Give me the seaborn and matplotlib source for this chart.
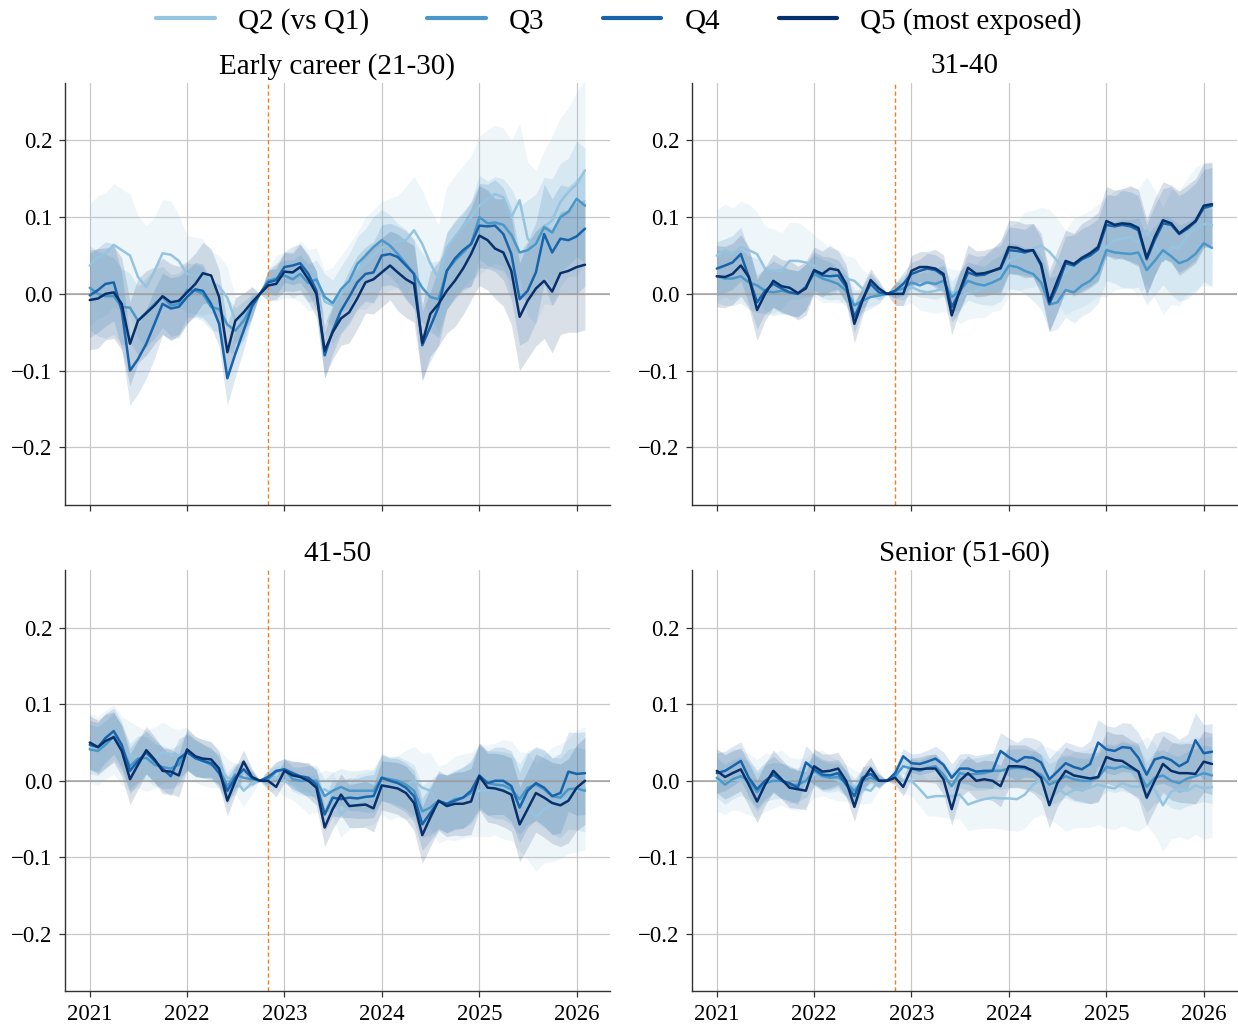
import numpy as np
import pandas as pd
import matplotlib
matplotlib.use("Agg")
import matplotlib.pyplot as plt
import matplotlib.dates as mdates
from matplotlib.lines import Line2D
import seaborn as sns

# Monthly event-study coefficients, reference month 2022-10 (normalised to 0)
months = pd.date_range("2021-01-01", "2026-02-01", freq="MS")
quintiles = ["Q2 (vs Q1)", "Q3", "Q4", "Q5 (most exposed)"]
panel_titles = ["Early career (21-30)", "31-40", "41-50", "Senior (51-60)"]
release_date = pd.Timestamp("2022-11-01")
y_ticks = [-0.2, -0.1, 0.0, 0.1, 0.2]

# ---- Early career (21-30) ----
early_q2 = [0.037, 0.048, 0.052, 0.064, 0.057, 0.050, 0.022, 0.009, 0.030, 0.053, 0.051, 0.043,
            0.026, 0.024, 0.022, 0.015, 0.010, -0.005, -0.035, -0.030, -0.010, 0.000,
            0.012, 0.020, 0.025, 0.025, 0.030, 0.018, 0.020, -0.010, -0.015, 0.000, 0.015, 0.030,
            0.040, 0.050, 0.060, 0.065, 0.068, 0.070, 0.083, 0.065, 0.040, 0.020, 0.060, 0.074,
            0.087, 0.100, 0.115, 0.124, 0.130, 0.126, 0.100, 0.122, 0.072, 0.061, 0.087, 0.096, 0.120, 0.133, 0.143, 0.161]
early_q3 = [0.008, 0.000, -0.003, -0.003, -0.017, -0.018, -0.035, -0.024, -0.013, -0.004, -0.015, -0.013,
            0.005, 0.004, 0.000, -0.017, -0.020, -0.040, -0.048, -0.035, -0.015, 0.000,
            0.017, 0.020, 0.024, 0.019, 0.026, 0.014, 0.019, -0.004, -0.012, 0.006, 0.017, 0.039,
            0.050, 0.061, 0.070, 0.063, 0.052, 0.039, 0.026, 0.008, -0.004, -0.007, 0.030, 0.043,
            0.054, 0.065, 0.100, 0.092, 0.093, 0.090, 0.077, 0.054, 0.057, 0.065, 0.087, 0.080, 0.100, 0.107, 0.124, 0.115]
early_q4 = [-0.002, 0.005, 0.013, 0.015, -0.022, -0.100, -0.085, -0.065, -0.039, -0.013, -0.019, -0.017,
            -0.004, 0.006, 0.004, -0.013, -0.039, -0.110, -0.078, -0.048, -0.017, 0.000,
            0.015, 0.018, 0.035, 0.037, 0.040, 0.026, 0.004, -0.080, -0.048, -0.022, -0.004, 0.015,
            0.026, 0.028, 0.050, 0.052, 0.048, 0.037, 0.026, -0.067, -0.043, -0.017, 0.030, 0.046,
            0.057, 0.065, 0.089, 0.088, 0.089, 0.078, 0.052, -0.007, 0.004, 0.028, 0.078, 0.054, 0.072, 0.070, 0.075, 0.085]
early_q5 = [-0.008, -0.006, 0.000, 0.002, -0.013, -0.065, -0.035, -0.025, -0.015, -0.003, -0.011, -0.009,
            0.002, 0.013, 0.027, 0.024, -0.004, -0.076, -0.035, -0.024, -0.011, 0.000,
            0.011, 0.013, 0.029, 0.028, 0.035, 0.019, 0.000, -0.074, -0.050, -0.032, -0.024, -0.006,
            0.015, 0.019, 0.028, 0.037, 0.028, 0.019, 0.013, -0.064, -0.026, -0.013, 0.004, 0.017,
            0.033, 0.052, 0.076, 0.070, 0.059, 0.054, 0.030, -0.030, -0.009, 0.007, 0.017, 0.003, 0.027, 0.030, 0.035, 0.038]
# 95% CI half-widths
early_q2_ci = [0.08, 0.08, 0.08, 0.08, 0.08, 0.08, 0.08, 0.08, 0.07, 0.07, 0.07, 0.06,
               0.05, 0.05, 0.05, 0.04, 0.04, 0.04, 0.03, 0.03, 0.02, 0.00,
               0.02, 0.03, 0.03, 0.03, 0.04, 0.04, 0.04, 0.04, 0.05, 0.05, 0.05, 0.05,
               0.06, 0.06, 0.06, 0.06, 0.06, 0.07, 0.07, 0.07, 0.07, 0.07, 0.08, 0.08,
               0.08, 0.08, 0.09, 0.09, 0.09, 0.09, 0.10, 0.10, 0.10, 0.10, 0.10, 0.11, 0.11, 0.11, 0.12, 0.12]
early_mid_ci = [0.055, 0.055, 0.055, 0.050, 0.050, 0.045, 0.045, 0.045, 0.045, 0.040, 0.040, 0.040,
                0.035, 0.035, 0.035, 0.030, 0.030, 0.035, 0.030, 0.025, 0.015, 0.000,
                0.015, 0.020, 0.020, 0.025, 0.025, 0.025, 0.025, 0.030, 0.030, 0.030, 0.035, 0.035,
                0.035, 0.040, 0.040, 0.040, 0.040, 0.045, 0.045, 0.045, 0.045, 0.050, 0.050, 0.050,
                0.050, 0.055, 0.055, 0.055, 0.060, 0.060, 0.060, 0.060, 0.065, 0.065, 0.065, 0.070, 0.070, 0.070, 0.075, 0.075]
early_q5_ci = [0.065, 0.065, 0.060, 0.060, 0.060, 0.055, 0.055, 0.055, 0.050, 0.050, 0.050, 0.045,
               0.040, 0.040, 0.040, 0.035, 0.035, 0.035, 0.030, 0.025, 0.020, 0.000,
               0.020, 0.020, 0.025, 0.025, 0.030, 0.030, 0.030, 0.035, 0.035, 0.035, 0.040, 0.040,
               0.040, 0.045, 0.045, 0.045, 0.050, 0.050, 0.050, 0.050, 0.055, 0.055, 0.055, 0.060,
               0.060, 0.060, 0.065, 0.065, 0.065, 0.070, 0.070, 0.070, 0.075, 0.075, 0.075, 0.080, 0.080, 0.080, 0.085, 0.085]

# ---- 31-40 ----
thirties_q2 = [0.050, 0.057, 0.052, 0.061, 0.057, 0.052, 0.033, 0.030, 0.030, 0.043, 0.043, 0.041,
               0.037, 0.028, 0.024, 0.023, 0.020, 0.017, 0.007, 0.004, 0.002, 0.000,
               0.000, 0.004, 0.009, 0.004, 0.002, 0.004, 0.007, 0.002, -0.004, 0.002, 0.004, 0.009,
               0.017, 0.024, 0.043, 0.048, 0.057, 0.059, 0.063, 0.055, 0.043, 0.028, 0.039, 0.043,
               0.049, 0.057, 0.061, 0.070, 0.072, 0.074, 0.067, 0.083, 0.065, 0.043, 0.061, 0.060, 0.076, 0.085, 0.091, 0.090]
thirties_q3 = [0.023, 0.020, 0.020, 0.023, 0.015, 0.011, 0.004, 0.002, 0.004, 0.002, 0.000, 0.009,
               0.026, 0.020, 0.017, 0.013, 0.004, -0.015, -0.009, -0.004, -0.002, 0.000,
               0.004, 0.007, 0.015, 0.011, 0.015, 0.013, 0.017, -0.004, 0.004, 0.017, 0.013, 0.011,
               0.015, 0.020, 0.037, 0.035, 0.030, 0.026, 0.015, -0.014, -0.011, 0.005, 0.002, 0.011,
               0.017, 0.028, 0.057, 0.054, 0.053, 0.052, 0.054, 0.031, 0.043, 0.057, 0.049, 0.040, 0.044, 0.052, 0.066, 0.060]
thirties_q4 = [0.033, 0.037, 0.041, 0.052, 0.022, -0.011, 0.004, 0.013, 0.007, 0.002, 0.000, 0.009,
               0.030, 0.024, 0.023, 0.024, 0.009, -0.030, -0.007, 0.013, 0.002, 0.000,
               0.004, 0.013, 0.026, 0.030, 0.033, 0.031, 0.024, -0.017, 0.002, 0.028, 0.024, 0.025,
               0.030, 0.033, 0.057, 0.056, 0.054, 0.057, 0.037, -0.013, 0.010, 0.040, 0.037, 0.045,
               0.050, 0.058, 0.090, 0.088, 0.090, 0.088, 0.083, 0.045, 0.070, 0.092, 0.090, 0.078, 0.085, 0.094, 0.112, 0.115]
thirties_q5 = [0.023, 0.022, 0.026, 0.037, 0.022, -0.021, 0.000, 0.017, 0.010, 0.008, 0.001, 0.007,
               0.031, 0.026, 0.033, 0.031, 0.013, -0.039, -0.009, 0.018, 0.007, 0.000,
               0.000, 0.000, 0.030, 0.035, 0.035, 0.033, 0.026, -0.028, 0.004, 0.034, 0.026, 0.027,
               0.030, 0.034, 0.061, 0.060, 0.056, 0.057, 0.039, -0.010, 0.017, 0.043, 0.039, 0.047,
               0.053, 0.061, 0.095, 0.090, 0.092, 0.091, 0.086, 0.047, 0.074, 0.096, 0.092, 0.079, 0.087, 0.095, 0.115, 0.117]
thirties_q2_ci = [0.060, 0.060, 0.060, 0.060, 0.060, 0.055, 0.055, 0.055, 0.050, 0.050, 0.050, 0.045,
                  0.040, 0.040, 0.035, 0.035, 0.030, 0.030, 0.025, 0.020, 0.015, 0.000,
                  0.015, 0.020, 0.020, 0.025, 0.025, 0.030, 0.030, 0.030, 0.035, 0.035, 0.035, 0.040,
                  0.040, 0.045, 0.045, 0.045, 0.050, 0.050, 0.050, 0.055, 0.055, 0.055, 0.060, 0.060,
                  0.060, 0.060, 0.065, 0.065, 0.065, 0.065, 0.070, 0.070, 0.070, 0.070, 0.075, 0.075, 0.075, 0.080, 0.080, 0.080]
thirties_mid_ci = [0.035, 0.035, 0.035, 0.035, 0.035, 0.035, 0.030, 0.030, 0.030, 0.030, 0.030, 0.030,
                   0.025, 0.025, 0.025, 0.020, 0.020, 0.020, 0.015, 0.015, 0.010, 0.000,
                   0.010, 0.015, 0.015, 0.015, 0.020, 0.020, 0.020, 0.020, 0.025, 0.025, 0.025, 0.025,
                   0.030, 0.030, 0.030, 0.030, 0.030, 0.035, 0.035, 0.035, 0.035, 0.035, 0.040, 0.040,
                   0.040, 0.040, 0.040, 0.040, 0.045, 0.045, 0.045, 0.045, 0.045, 0.045, 0.050, 0.050, 0.050, 0.050, 0.050, 0.050]
thirties_q5_ci = [0.040, 0.040, 0.040, 0.040, 0.040, 0.040, 0.035, 0.035, 0.035, 0.035, 0.035, 0.035,
                  0.030, 0.030, 0.030, 0.025, 0.025, 0.025, 0.020, 0.015, 0.010, 0.000,
                  0.015, 0.015, 0.020, 0.020, 0.020, 0.025, 0.025, 0.025, 0.025, 0.030, 0.030, 0.030,
                  0.030, 0.035, 0.035, 0.035, 0.035, 0.035, 0.040, 0.040, 0.040, 0.040, 0.040, 0.045,
                  0.045, 0.045, 0.045, 0.045, 0.045, 0.050, 0.050, 0.050, 0.050, 0.050, 0.050, 0.055, 0.055, 0.055, 0.055, 0.055]

# ---- 41-50 ----
forties_q2 = [0.043, 0.039, 0.047, 0.054, 0.039, 0.032, 0.031, 0.026, 0.030, 0.037, 0.035, 0.032,
              0.035, 0.028, 0.024, 0.021, 0.016, 0.004, 0.002, -0.013, -0.003, 0.000,
              0.000, 0.004, 0.000, -0.005, -0.013, -0.018, -0.017, -0.011, -0.018, -0.044, -0.033, -0.027,
              -0.024, -0.022, -0.003, -0.011, -0.007, -0.005, 0.000, -0.009, -0.013, -0.031, -0.027, -0.023,
              -0.020, -0.018, -0.013, -0.013, -0.011, -0.011, -0.013, -0.027, -0.033, -0.048, -0.037, -0.031, -0.027, -0.020, -0.013, -0.010]
forties_q3 = [0.041, 0.039, 0.047, 0.058, 0.043, 0.019, 0.029, 0.030, 0.021, 0.018, 0.016, 0.021,
              0.040, 0.029, 0.026, 0.021, 0.015, -0.007, 0.008, 0.004, 0.002, 0.000,
              0.002, 0.012, 0.015, 0.002, 0.000, 0.000, 0.000, -0.020, -0.013, -0.008, -0.013, -0.013,
              -0.013, -0.013, 0.004, 0.002, 0.000, -0.005, -0.013, -0.040, -0.035, -0.026, -0.030, -0.024,
              -0.022, -0.016, 0.004, -0.003, -0.005, -0.006, -0.011, -0.024, -0.009, -0.005, -0.011, -0.020, -0.022, -0.011, -0.010, -0.013]
forties_q4 = [0.047, 0.044, 0.056, 0.065, 0.047, 0.013, 0.026, 0.037, 0.026, 0.016, 0.006, 0.029,
              0.037, 0.030, 0.026, 0.023, 0.010, -0.013, 0.004, 0.015, 0.004, 0.000,
              0.005, 0.013, 0.015, 0.010, 0.006, 0.004, -0.005, -0.044, -0.022, -0.024, -0.022, -0.023,
              -0.021, -0.020, 0.004, 0.000, -0.003, -0.009, -0.020, -0.057, -0.042, -0.027, -0.030, -0.026,
              -0.022, -0.013, 0.007, -0.003, 0.000, 0.000, -0.007, -0.035, -0.013, -0.003, -0.009, -0.020, -0.016, 0.012, 0.009, 0.010]
forties_q5 = [0.050, 0.044, 0.052, 0.057, 0.039, 0.002, 0.021, 0.040, 0.028, 0.013, 0.012, 0.007,
              0.041, 0.032, 0.029, 0.028, 0.016, -0.026, 0.000, 0.025, 0.005, 0.000,
              0.000, -0.008, 0.013, 0.007, 0.005, 0.000, -0.009, -0.061, -0.037, -0.018, -0.033, -0.032,
              -0.031, -0.036, -0.006, -0.008, -0.010, -0.016, -0.029, -0.071, -0.048, -0.026, -0.033, -0.030,
              -0.030, -0.027, 0.006, -0.009, -0.010, -0.013, -0.018, -0.057, -0.037, -0.016, -0.022, -0.029, -0.032, -0.026, -0.009, 0.000]
forties_q2_ci = [0.045, 0.045, 0.045, 0.045, 0.045, 0.045, 0.040, 0.040, 0.040, 0.040, 0.035, 0.035,
                 0.035, 0.030, 0.030, 0.030, 0.025, 0.025, 0.020, 0.020, 0.015, 0.000,
                 0.015, 0.015, 0.020, 0.020, 0.020, 0.025, 0.025, 0.025, 0.030, 0.030, 0.030, 0.035,
                 0.035, 0.035, 0.040, 0.040, 0.040, 0.045, 0.045, 0.045, 0.050, 0.050, 0.050, 0.055,
                 0.055, 0.055, 0.060, 0.060, 0.060, 0.065, 0.065, 0.065, 0.070, 0.070, 0.070, 0.075, 0.075, 0.075, 0.080, 0.080]
forties_mid_ci = [0.032, 0.032, 0.032, 0.030, 0.030, 0.030, 0.030, 0.028, 0.028, 0.028, 0.026, 0.026,
                  0.024, 0.024, 0.022, 0.020, 0.020, 0.018, 0.016, 0.014, 0.010, 0.000,
                  0.010, 0.012, 0.014, 0.016, 0.018, 0.020, 0.020, 0.022, 0.024, 0.024, 0.026, 0.026,
                  0.028, 0.028, 0.030, 0.030, 0.032, 0.032, 0.034, 0.034, 0.036, 0.036, 0.038, 0.038,
                  0.040, 0.040, 0.042, 0.042, 0.044, 0.044, 0.046, 0.046, 0.048, 0.048, 0.050, 0.050, 0.052, 0.052, 0.054, 0.054]
forties_q5_ci = [0.035, 0.035, 0.035, 0.033, 0.033, 0.033, 0.032, 0.031, 0.030, 0.030, 0.029, 0.028,
                 0.027, 0.026, 0.025, 0.023, 0.022, 0.020, 0.018, 0.015, 0.011, 0.000,
                 0.011, 0.013, 0.015, 0.018, 0.020, 0.022, 0.023, 0.025, 0.026, 0.027, 0.028, 0.029,
                 0.030, 0.031, 0.032, 0.033, 0.034, 0.035, 0.036, 0.037, 0.038, 0.039, 0.040, 0.041,
                 0.042, 0.043, 0.044, 0.045, 0.046, 0.047, 0.048, 0.049, 0.050, 0.051, 0.052, 0.053, 0.054, 0.055, 0.056, 0.057]

# ---- Senior (51-60) ----
senior_q2 = [0.000, -0.004, 0.002, 0.000, -0.005, -0.010, -0.002, 0.000, 0.004, -0.003, -0.005, -0.002,
             0.008, 0.010, 0.005, 0.000, -0.003, -0.008, -0.010, -0.013, 0.000, 0.000,
             0.008, 0.000, 0.000, -0.011, -0.022, -0.020, -0.020, -0.020, -0.018, -0.031, -0.027, -0.024,
             -0.022, -0.023, -0.023, -0.024, -0.018, -0.005, 0.002, -0.003, -0.009, -0.018, -0.012, -0.011,
             -0.009, -0.005, -0.008, -0.010, -0.003, -0.007, -0.008, 0.000, -0.011, -0.032, -0.014, -0.011, -0.013, -0.006, -0.010, -0.008]
senior_q3 = [0.004, -0.005, 0.002, 0.006, 0.000, -0.015, -0.003, 0.000, 0.000, -0.006, -0.005, 0.000,
             0.013, 0.006, 0.004, 0.005, -0.003, -0.013, 0.000, 0.004, 0.000, 0.000,
             0.006, 0.019, 0.016, 0.013, 0.017, 0.019, 0.008, -0.007, 0.010, 0.008, 0.009, 0.010,
             0.013, 0.013, 0.016, 0.017, 0.016, 0.013, 0.008, -0.005, 0.000, 0.006, 0.002, 0.000,
             0.000, 0.004, 0.018, 0.016, 0.019, 0.016, 0.012, -0.008, 0.004, 0.007, 0.000, -0.003, 0.003, 0.006, 0.010, 0.007]
senior_q4 = [0.010, 0.013, 0.019, 0.026, 0.004, -0.011, 0.000, 0.008, 0.000, -0.003, -0.009, 0.024,
             0.015, 0.008, 0.007, 0.010, -0.005, -0.020, 0.004, 0.009, 0.000, 0.000,
             0.010, 0.032, 0.023, 0.022, 0.025, 0.029, 0.021, 0.004, 0.016, 0.016, 0.012, 0.013,
             0.013, 0.039, 0.031, 0.025, 0.031, 0.030, 0.024, 0.002, 0.012, 0.023, 0.018, 0.015,
             0.022, 0.050, 0.041, 0.039, 0.044, 0.043, 0.030, 0.008, 0.028, 0.031, 0.027, 0.019, 0.025, 0.053, 0.036, 0.038]
senior_q5 = [0.013, 0.005, 0.010, 0.015, -0.005, -0.027, -0.005, 0.013, 0.002, -0.009, -0.011, -0.013,
             0.019, 0.012, 0.013, 0.016, 0.000, -0.034, 0.000, 0.016, 0.000, 0.000,
             0.004, -0.008, 0.016, 0.015, 0.016, 0.016, 0.002, -0.037, 0.000, 0.010, 0.000, 0.002,
             0.000, -0.007, 0.019, 0.019, 0.018, 0.013, 0.004, -0.032, -0.003, 0.013, 0.007, 0.005,
             0.003, 0.005, 0.031, 0.027, 0.026, 0.019, 0.012, -0.022, 0.000, 0.022, 0.013, 0.010, 0.010, 0.009, 0.025, 0.022]
senior_q2_ci = [0.040, 0.040, 0.040, 0.040, 0.040, 0.038, 0.038, 0.036, 0.036, 0.034, 0.034, 0.032,
                0.030, 0.030, 0.028, 0.026, 0.024, 0.022, 0.020, 0.016, 0.012, 0.000,
                0.012, 0.016, 0.020, 0.022, 0.024, 0.026, 0.028, 0.030, 0.032, 0.034, 0.036, 0.038,
                0.040, 0.040, 0.042, 0.042, 0.044, 0.044, 0.046, 0.046, 0.048, 0.048, 0.050, 0.050,
                0.052, 0.052, 0.054, 0.054, 0.056, 0.056, 0.058, 0.058, 0.060, 0.060, 0.062, 0.062, 0.064, 0.064, 0.066, 0.066]
senior_mid_ci = [0.026, 0.026, 0.026, 0.025, 0.025, 0.025, 0.024, 0.024, 0.023, 0.023, 0.022, 0.022,
                 0.020, 0.020, 0.019, 0.018, 0.017, 0.016, 0.014, 0.012, 0.008, 0.000,
                 0.008, 0.010, 0.012, 0.014, 0.015, 0.016, 0.017, 0.018, 0.019, 0.020, 0.021, 0.022,
                 0.023, 0.024, 0.025, 0.025, 0.026, 0.026, 0.027, 0.027, 0.028, 0.028, 0.029, 0.029,
                 0.030, 0.030, 0.031, 0.031, 0.032, 0.032, 0.033, 0.033, 0.034, 0.034, 0.035, 0.035, 0.036, 0.036, 0.037, 0.037]
senior_q5_ci = [0.029, 0.029, 0.029, 0.028, 0.028, 0.028, 0.027, 0.027, 0.026, 0.026, 0.025, 0.025,
                0.023, 0.023, 0.022, 0.021, 0.020, 0.019, 0.017, 0.015, 0.010, 0.000,
                0.010, 0.012, 0.014, 0.016, 0.018, 0.019, 0.020, 0.021, 0.022, 0.023, 0.024, 0.025,
                0.026, 0.027, 0.028, 0.028, 0.029, 0.029, 0.030, 0.030, 0.031, 0.031, 0.032, 0.032,
                0.033, 0.033, 0.034, 0.034, 0.035, 0.035, 0.036, 0.036, 0.037, 0.037, 0.038, 0.038, 0.039, 0.039, 0.040, 0.040]

panels = [
    (panel_titles[0], [early_q2, early_q3, early_q4, early_q5],
     [early_q2_ci, early_mid_ci, early_mid_ci, early_q5_ci]),
    (panel_titles[1], [thirties_q2, thirties_q3, thirties_q4, thirties_q5],
     [thirties_q2_ci, thirties_mid_ci, thirties_mid_ci, thirties_q5_ci]),
    (panel_titles[2], [forties_q2, forties_q3, forties_q4, forties_q5],
     [forties_q2_ci, forties_mid_ci, forties_mid_ci, forties_q5_ci]),
    (panel_titles[3], [senior_q2, senior_q3, senior_q4, senior_q5],
     [senior_q2_ci, senior_mid_ci, senior_mid_ci, senior_q5_ci]),
]

sns.set_theme(style="whitegrid")
plt.rcParams.update({
    "font.family": ["Liberation Serif", "DejaVu Serif"],
    "text.color": "black",
    "axes.labelcolor": "black",
    "xtick.color": "black",
    "ytick.color": "black",
    "axes.edgecolor": "#333333",
    "axes.linewidth": 1.0,
    "grid.color": "#c8c8c8",
    "grid.linewidth": 0.9,
})

blues = [plt.cm.Blues(v) for v in (0.4, 0.6, 0.8, 1.0)]

fig = plt.figure(figsize=(12.38, 10.24), dpi=100)
rects = [
    [0.0525, 0.507, 0.440, 0.412],
    [0.559, 0.507, 0.440, 0.412],
    [0.0525, 0.032, 0.440, 0.411],
    [0.559, 0.032, 0.440, 0.411],
]

for i, (title, series, bands) in enumerate(panels):
    ax = fig.add_axes(rects[i])
    long = pd.concat(
        [pd.DataFrame({"month": months, "coef": vals, "quintile": q})
         for q, vals in zip(quintiles, series)],
        ignore_index=True,
    )
    for vals, ci, col in zip(series, bands, blues):
        v = np.asarray(vals)
        c = np.asarray(ci)
        ax.fill_between(months, v - c, v + c, color=col, alpha=0.15,
                        linewidth=0, zorder=1)
    ax.axhline(0, color="#a0a0a0", lw=1.1, zorder=2)
    ax.axvline(release_date, color="#f07f1e", ls=(0, (3, 2)), lw=1.0, zorder=2)
    sns.lineplot(data=long, x="month", y="coef", hue="quintile",
                 hue_order=quintiles, palette=blues, linewidth=1.8,
                 errorbar=None, legend=False, ax=ax, zorder=3)

    ax.set_ylim(-0.275, 0.275)
    ax.set_yticks(y_ticks)
    ax.xaxis.set_major_locator(mdates.YearLocator())
    ax.xaxis.set_major_formatter(mdates.DateFormatter("%Y"))
    ax.set_xlabel("")
    ax.set_ylabel("")
    ax.set_title(title, fontsize=21, pad=7, color="black")
    ax.spines[["top", "right"]].set_visible(False)
    ax.tick_params(axis="both", which="major", bottom=True, left=True,
                   length=4, width=0.9, color="#333333", labelcolor="black",
                   labelsize=16.5, pad=5)
    if i < 2:
        ax.tick_params(axis="x", labelbottom=False)

handles = [Line2D([0], [0], color=c, lw=3) for c in blues]
fig.legend(handles, quintiles, loc="upper center", bbox_to_anchor=(0.5, 1.018),
           ncol=4, frameon=False, fontsize=21, handlelength=2.0,
           handletextpad=0.8, columnspacing=2.0, labelcolor="black")

fig.savefig("out.png", dpi=100)
